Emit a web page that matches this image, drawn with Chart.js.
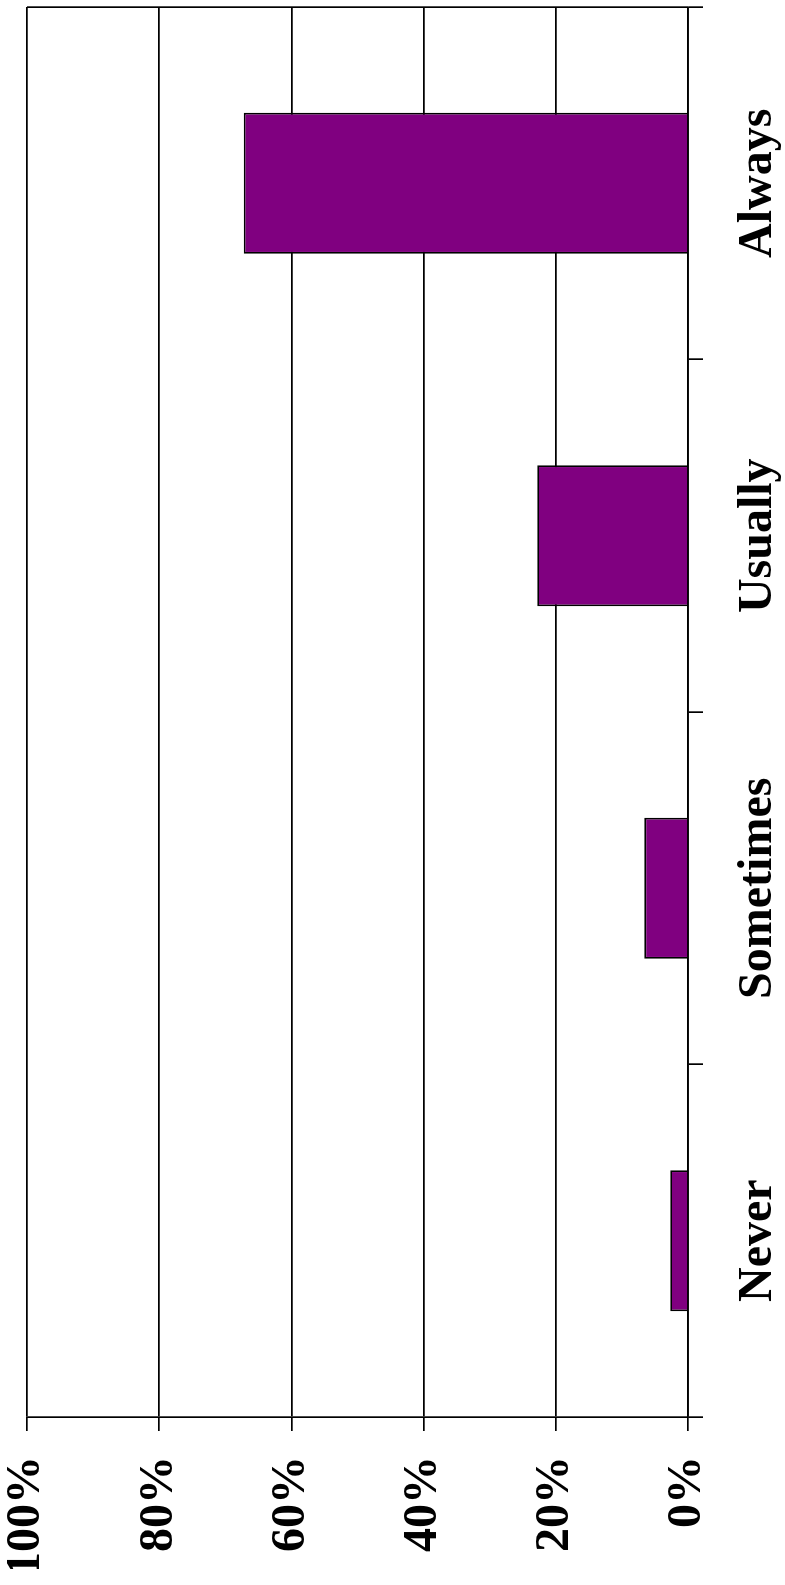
<!DOCTYPE html>
<html>
<head>
<meta charset="utf-8">
<script src="https://cdn.jsdelivr.net/npm/chart.js@4.4.1/dist/chart.umd.min.js"></script>
<style>
  html, body { margin: 0; padding: 0; background: #fff; overflow: hidden; }
  /* chart is laid out upright, then turned a quarter turn to the left */
  #wrap {
    position: absolute; left: 0; top: 0;
    width: 1585px; height: 785px;
    transform-origin: 0 0;
    transform: translateY(1585px) rotate(-90deg);
  }
</style>
</head>
<body>
<div id="wrap"><canvas id="freq" width="1585" height="785"></canvas></div>
<script>
const categories = ['Never', 'Sometimes', 'Usually', 'Always']
const shares = [2.7, 6.6, 22.8, 67.2]
const valueTicks = [0, 20, 40, 60, 80, 100]

const black = '#000'
const labelFont = { family: "'Liberation Serif', 'Times New Roman', serif", weight: 'bold', size: 48, lineHeight: 1.2 }

Chart.defaults.color = black

new Chart(document.querySelector('#freq'), {
    type: 'bar',
    data: {
        labels: categories,
        datasets: [
            {
                data: shares,
                backgroundColor: '#800080',
                borderColor: black,
                borderWidth: 1.8,
                barPercentage: 0.4,
                categoryPercentage: 1,
            },
        ]
    },
    options: {
        responsive: false,
        animation: false,
        layout: {
            autoPadding: false,
            padding: { left: 16, right: 7, top: 27, bottom: 0 },
        },
        plugins: {
            legend: { display: false },
            tooltip: { enabled: false },
        },
        scales: {
            x: {
                offset: true,
                afterFit: (scale) => { scale.height = 97 },
                grid: {
                    offset: true,
                    drawOnChartArea: true,
                    // only the closing edge of the plot gets a full line
                    color: (c) => c.type === 'scale' ? black : 'rgba(0,0,0,0)',
                    tickColor: black,
                    lineWidth: 1.7,
                    tickWidth: 1.7,
                    tickLength: 15,
                },
                border: { display: true, color: black, width: 1.7 },
                ticks: {
                    font: labelFont,
                    padding: 27,
                    maxRotation: 0,
                    autoSkip: false,
                },
            },
            y: {
                min: 0,
                max: 100,
                afterFit: (scale) => {
                    scale.width = 152
                    // the 100% label may hang past the plot edge
                    scale.paddingTop = 0
                    scale.paddingBottom = 0
                },
                afterBuildTicks: (scale) => {
                    scale.ticks = valueTicks.map((v) => ({ value: v }))
                },
                grid: {
                    color: black,
                    lineWidth: 1.7,
                    tickLength: 14,
                },
                border: { display: true, color: black, width: 1.7 },
                ticks: {
                    font: { ...labelFont, lineHeight: 1 },
                    padding: 25,
                    callback: (v) => v + '%',
                },
            },
        },
    }
})
</script>
</body>
</html>
